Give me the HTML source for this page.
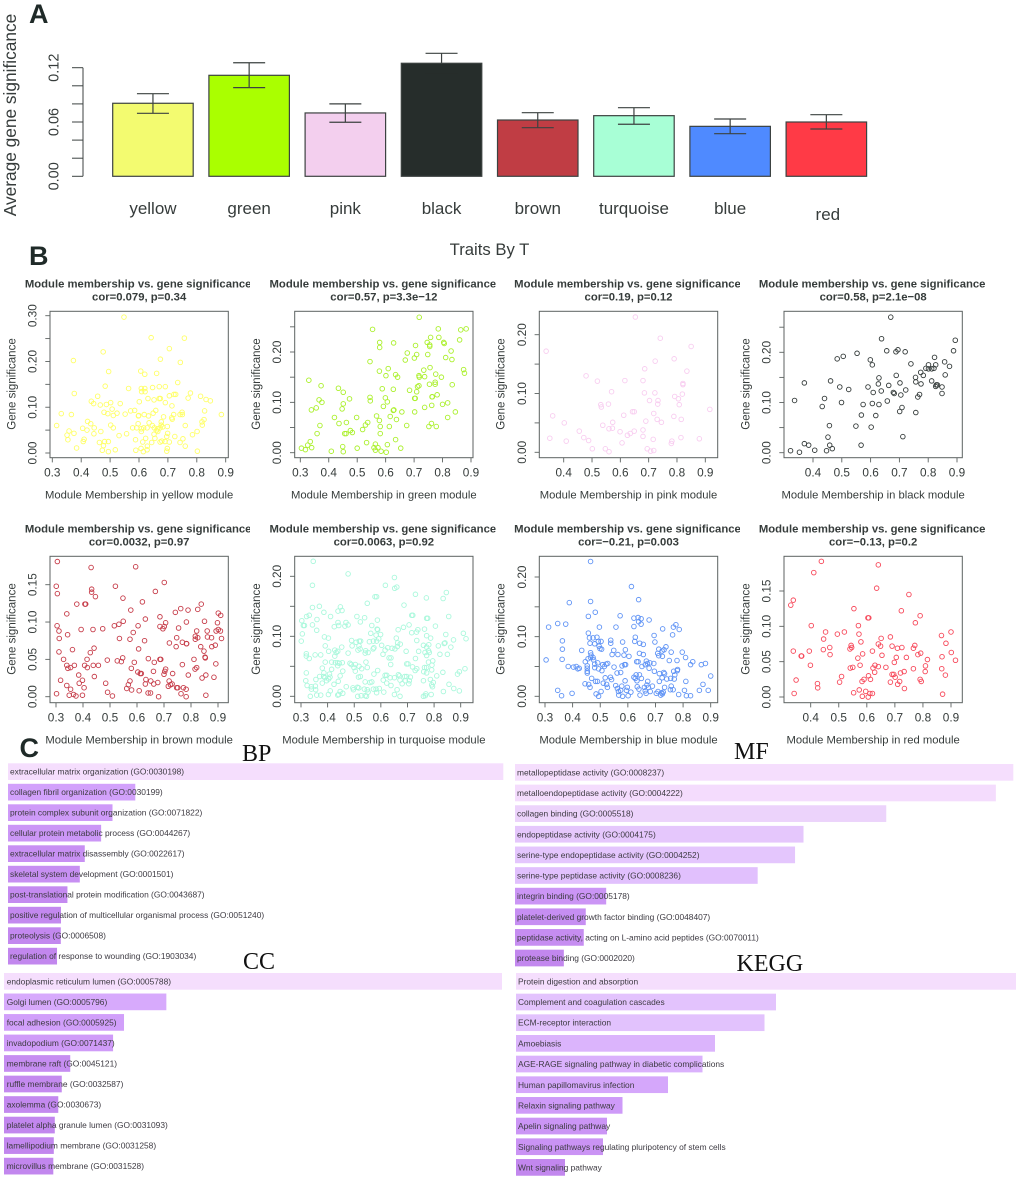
<!DOCTYPE html>
<html lang="en">
<head>
<meta charset="utf-8">
<title>Module gene significance figure</title>
<style>
html,body{margin:0;padding:0;background:#fff;}
body{width:1020px;height:1180px;overflow:hidden;}
svg{display:block;filter:blur(0.35px);}
text{font-family:"Liberation Sans",Arial,sans-serif;fill:#363c3b;}
.serif{font-family:"Liberation Serif","Times New Roman",serif;fill:#111;font-size:24px;}
.letter{font-weight:bold;font-size:27px;fill:#1f2a28;}
</style>
</head>
<body>
<svg id="fig" xmlns="http://www.w3.org/2000/svg" width="1020" height="1180" viewBox="0 0 1020 1180">
  <rect x="0" y="0" width="1020" height="1180" fill="#fff"/>
  <text class="letter" x="29" y="23">A</text>
  <text class="letter" x="29" y="265">B</text>
  <text class="letter" x="19.5" y="757">C</text>
  <text x="489.5" y="255" text-anchor="middle" font-size="16.7">Traits By T</text>
  <text class="serif" x="242" y="761">BP</text>
  <text class="serif" x="734" y="759">MF</text>
  <text class="serif" x="243" y="969">CC</text>
  <text class="serif" x="736.5" y="971">KEGG</text>
</svg>
<script>
/* ---------- Panel A data ---------- */
const moduleNames = ["yellow","green","pink","black","brown","turquoise","blue","red"];
const moduleColors = ["#f3fb70","#aaff00","#f3cfee","#262d2b","#c03d44","#a8ffd6","#4f8aff","#ff3a46"];
const meanSignificance = [0.0807,0.1116,0.0700,0.1249,0.0622,0.0670,0.0552,0.0600];
const errorUpper = [0.0913,0.1255,0.0800,0.1359,0.0703,0.0758,0.0633,0.0681];
const errorLower = [0.0696,0.0980,0.0597,0.1140,0.0537,0.0575,0.0471,0.0523];
const barTicks = [0,0.02,0.04,0.06,0.08,0.10,0.12];
const barTickLabels = ["0.00","0.06","0.12"];

/* ---------- Panel B data: [module membership, gene significance] ---------- */
const yellowPoints = [[.548,.297],[.642,.252],[.757,.251],[.476,.221],[.705,.228],[.373,.202],[.674,.205],[.743,.198],[.495,.178],[.606,.179],[.62,.172],[.661,.174],[.483,.146],[.564,.141],[.608,.141],[.62,.141],[.647,.143],[.67,.145],[.691,.145],[.734,.154],[.376,.13],[.609,.134],[.621,.134],[.778,.131],[.457,.124],[.705,.125],[.721,.128],[.727,.128],[.77,.12],[.813,.124],[.652,.116],[.67,.119],[.674,.119],[.832,.117],[.847,.114],[.435,.113],[.443,.108],[.502,.11],[.487,.106],[.466,.105],[.535,.108],[.601,.112],[.631,.119],[.691,.11],[.714,.103],[.507,.096],[.479,.089],[.492,.086],[.524,.087],[.511,.082],[.331,.086],[.366,.084],[.552,.085],[.571,.092],[.585,.093],[.598,.081],[.618,.084],[.633,.081],[.658,.093],[.649,.087],[.685,.079],[.72,.084],[.742,.084],[.749,.089],[.75,.084],[.827,.092],[.885,.084],[.315,.06],[.358,.048],[.351,.039],[.354,.029],[.375,.043],[.384,.011],[.405,.054],[.422,.069],[.433,.064],[.42,.05],[.445,.055],[.444,.042],[.41,.03],[.407,.025],[.468,.047],[.463,.023],[.477,.016],[.473,.006],[.481,.025],[.494,.025],[.494,.003],[.502,.061],[.511,.055],[.518,.007],[.531,.038],[.557,.042],[.588,.029],[.589,.006],[.578,.055],[.592,.055],[.597,.064],[.599,.082],[.608,.047],[.608,.053],[.616,.055],[.628,.055],[.635,.066],[.646,.06],[.653,.055],[.652,.041],[.655,.032],[.66,.049],[.664,.053],[.665,.047],[.673,.055],[.677,.068],[.682,.057],[.677,.061],[.698,.058],[.699,.043],[.696,.036],[.69,.025],[.705,.024],[.673,.024],[.679,.026],[.644,.023],[.623,.032],[.613,.024],[.629,.015],[.607,.01],[.615,.003],[.628,.007],[.696,.004],[.698,.01],[.724,.036],[.742,.023],[.752,.031],[.76,.06],[.76,.015],[.785,.04],[.801,.047],[.802,.004],[.819,.061],[.818,.068],[.825,.073],[.713,.077],[.715,.074]];
const greenPoints = [[.718,.269],[.554,.245],[.785,.246],[.864,.244],[.883,.246],[.86,.224],[.787,.229],[.758,.229],[.579,.219],[.579,.209],[.628,.218],[.705,.213],[.746,.219],[.755,.214],[.755,.211],[.804,.219],[.806,.217],[.83,.202],[.676,.198],[.709,.195],[.701,.188],[.669,.184],[.748,.195],[.811,.189],[.833,.185],[.545,.181],[.609,.167],[.578,.162],[.601,.153],[.635,.155],[.642,.15],[.756,.169],[.734,.164],[.776,.156],[.737,.151],[.717,.153],[.718,.15],[.796,.15],[.874,.165],[.877,.158],[.33,.144],[.373,.133],[.434,.128],[.451,.12],[.588,.127],[.627,.126],[.684,.124],[.709,.121],[.712,.131],[.717,.133],[.754,.136],[.774,.136],[.774,.14],[.834,.135],[.366,.105],[.376,.1],[.356,.089],[.339,.085],[.473,.107],[.451,.097],[.447,.087],[.545,.11],[.546,.103],[.599,.109],[.606,.101],[.592,.092],[.627,.084],[.629,.085],[.702,.108],[.704,.108],[.764,.111],[.763,.111],[.781,.115],[.702,.081],[.737,.09],[.762,.094],[.8,.096],[.818,.099],[.845,.081],[.42,.07],[.369,.054],[.359,.038],[.436,.058],[.462,.06],[.498,.07],[.537,.06],[.529,.055],[.519,.046],[.476,.044],[.483,.04],[.461,.038],[.456,.038],[.568,.073],[.578,.064],[.581,.052],[.581,.038],[.616,.072],[.613,.052],[.638,.066],[.657,.081],[.674,.054],[.752,.052],[.761,.058],[.778,.052],[.818,.07],[.635,.026],[.653,.009],[.606,.016],[.602,.001],[.533,.02],[.564,.017],[.559,.01],[.564,.005],[.573,.01],[.584,.003],[.5,.009],[.449,.012],[.451,.002],[.409,.003],[.304,.009],[.318,.006],[.326,.015],[.335,.022],[.34,.01]];
const pinkPoints = [[.653,.23],[.741,.194],[.338,.172],[.85,.18],[.79,.159],[.723,.155],[.686,.142],[.835,.138],[.479,.13],[.519,.121],[.616,.122],[.68,.122],[.821,.117],[.821,.115],[.569,.103],[.685,.101],[.722,.101],[.819,.099],[.792,.095],[.805,.091],[.703,.088],[.733,.088],[.732,.082],[.808,.081],[.531,.081],[.533,.077],[.558,.082],[.916,.073],[.643,.069],[.649,.069],[.612,.063],[.718,.066],[.361,.062],[.789,.061],[.815,.056],[.73,.056],[.69,.053],[.745,.051],[.573,.051],[.402,.05],[.538,.046],[.56,.04],[.572,.041],[.599,.035],[.455,.036],[.649,.036],[.68,.038],[.635,.032],[.625,.029],[.68,.027],[.351,.024],[.471,.025],[.488,.02],[.409,.019],[.716,.022],[.814,.025],[.879,.023],[.782,.019],[.78,.015],[.606,.016],[.501,.006],[.547,.006],[.56,.001],[.695,.006],[.707,.002],[.718,.003]];
const blackPoints = [[.67,.27],[.638,.227],[.656,.203],[.695,.205],[.688,.201],[.72,.201],[.553,.198],[.505,.192],[.484,.187],[.599,.185],[.606,.175],[.74,.177],[.894,.224],[.888,.203],[.822,.19],[.857,.181],[.874,.172],[.859,.155],[.801,.175],[.801,.167],[.792,.168],[.812,.167],[.82,.168],[.826,.175],[.774,.16],[.783,.154],[.756,.15],[.757,.141],[.775,.137],[.812,.143],[.828,.135],[.832,.135],[.826,.132],[.848,.131],[.848,.118],[.37,.139],[.336,.104],[.461,.143],[.44,.108],[.432,.092],[.493,.131],[.524,.126],[.499,.1],[.629,.149],[.627,.137],[.591,.131],[.663,.134],[.689,.154],[.702,.139],[.722,.125],[.637,.123],[.609,.12],[.679,.12],[.682,.118],[.705,.115],[.77,.116],[.764,.111],[.658,.103],[.606,.098],[.629,.096],[.574,.096],[.709,.09],[.701,.082],[.757,.08],[.568,.075],[.618,.074],[.457,.054],[.549,.053],[.602,.051],[.452,.031],[.712,.032],[.567,.015],[.458,.015],[.467,.008],[.447,.004],[.37,.018],[.385,.015],[.406,.005],[.322,.004],[.353,.001]];
const brownPoints = [[.305,.181],[.43,.173],[.595,.174],[.301,.148],[.52,.148],[.701,.153],[.305,.138],[.432,.144],[.432,.14],[.446,.134],[.668,.141],[.548,.132],[.62,.127],[.377,.124],[.407,.124],[.41,.124],[.838,.124],[.762,.118],[.742,.113],[.789,.116],[.825,.117],[.577,.116],[.34,.111],[.901,.112],[.91,.109],[.685,.107],[.631,.104],[.85,.101],[.549,.101],[.304,.095],[.311,.088],[.393,.09],[.437,.09],[.473,.091],[.516,.095],[.533,.097],[.604,.095],[.586,.086],[.685,.094],[.701,.094],[.706,.099],[.696,.091],[.754,.092],[.783,.1],[.898,.099],[.86,.088],[.821,.088],[.893,.088],[.901,.09],[.909,.088],[.312,.078],[.343,.083],[.535,.078],[.574,.077],[.628,.075],[.72,.072],[.747,.079],[.768,.073],[.783,.071],[.784,.071],[.816,.081],[.816,.077],[.825,.079],[.861,.08],[.876,.079],[.913,.078],[.745,.067],[.836,.067],[.877,.067],[.89,.069],[.311,.06],[.361,.063],[.427,.059],[.441,.065],[.606,.064],[.848,.061],[.328,.05],[.415,.05],[.642,.051],[.547,.052],[.527,.048],[.542,.047],[.49,.049],[.59,.046],[.664,.046],[.685,.05],[.688,.05],[.811,.05],[.852,.053],[.853,.052],[.892,.044],[.768,.043],[.34,.042],[.368,.042],[.344,.038],[.354,.039],[.406,.042],[.416,.039],[.438,.042],[.457,.042],[.579,.038],[.706,.037],[.703,.034],[.603,.033],[.612,.031],[.616,.031],[.661,.034],[.7,.03],[.732,.031],[.79,.029],[.821,.039],[.815,.037],[.841,.025],[.855,.029],[.885,.026],[.384,.029],[.442,.027],[.317,.022],[.398,.022],[.386,.018],[.484,.018],[.574,.021],[.633,.023],[.651,.021],[.631,.017],[.662,.017],[.677,.019],[.719,.021],[.716,.014],[.724,.016],[.73,.017],[.747,.012],[.751,.012],[.772,.012],[.782,.01],[.34,.015],[.354,.01],[.404,.012],[.491,.006],[.568,.016],[.562,.011],[.58,.009],[.608,.008],[.641,.005],[.65,.005],[.763,.004],[.302,.004],[.349,.002],[.365,.003],[.374,.001],[.398,.002],[.509,.001],[.68,.0],[.782,.0],[.855,.002]];
const turquoisePoints = [[.346,.225],[.477,.204],[.343,.185],[.651,.198],[.617,.185],[.652,.18],[.66,.182],[.73,.17],[.771,.164],[.846,.173],[.834,.163],[.578,.166],[.584,.166],[.549,.155],[.687,.152],[.343,.148],[.369,.15],[.448,.149],[.386,.14],[.439,.142],[.454,.143],[.321,.133],[.331,.135],[.303,.126],[.309,.118],[.313,.118],[.36,.128],[.411,.133],[.51,.133],[.539,.131],[.587,.127],[.523,.124],[.716,.135],[.72,.135],[.772,.13],[.776,.13],[.855,.133],[.439,.123],[.442,.118],[.469,.123],[.465,.117],[.477,.119],[.425,.116],[.343,.119],[.359,.11],[.305,.104],[.301,.092],[.388,.099],[.403,.097],[.566,.118],[.665,.111],[.685,.115],[.706,.119],[.739,.111],[.734,.107],[.716,.106],[.764,.112],[.805,.117],[.772,.101],[.787,.097],[.844,.103],[.91,.105],[.92,.096],[.873,.094],[.586,.112],[.588,.111],[.562,.105],[.582,.102],[.599,.103],[.557,.091],[.572,.092],[.584,.092],[.592,.096],[.49,.093],[.507,.09],[.519,.092],[.524,.092],[.658,.097],[.663,.089],[.673,.087],[.603,.085],[.735,.093],[.626,.081],[.616,.077],[.642,.08],[.653,.079],[.662,.083],[.76,.085],[.772,.082],[.78,.086],[.838,.088],[.841,.089],[.816,.084],[.863,.082],[.391,.084],[.453,.082],[.427,.077],[.432,.073],[.404,.075],[.438,.075],[.427,.067],[.477,.072],[.492,.084],[.518,.084],[.514,.077],[.522,.079],[.543,.076],[.541,.072],[.552,.073],[.574,.081],[.571,.079],[.608,.07],[.631,.064],[.638,.064],[.695,.075],[.742,.075],[.779,.076],[.782,.073],[.73,.063],[.766,.073],[.772,.068],[.822,.07],[.85,.07],[.32,.071],[.32,.067],[.331,.063],[.353,.069],[.374,.069],[.391,.057],[.415,.057],[.38,.047],[.386,.039],[.415,.045],[.429,.056],[.438,.056],[.444,.055],[.455,.056],[.438,.051],[.457,.042],[.484,.055],[.489,.053],[.504,.053],[.499,.048],[.504,.042],[.528,.046],[.544,.057],[.549,.048],[.518,.05],[.588,.043],[.574,.037],[.637,.053],[.697,.054],[.702,.054],[.719,.049],[.735,.046],[.729,.043],[.764,.048],[.772,.048],[.761,.041],[.772,.039],[.779,.057],[.795,.059],[.792,.052],[.791,.044],[.833,.04],[.81,.034],[.888,.037],[.895,.041],[.916,.046],[.32,.039],[.318,.026],[.323,.018],[.339,.016],[.339,.012],[.354,.017],[.355,.011],[.356,.028],[.37,.033],[.385,.033],[.39,.031],[.38,.022],[.396,.026],[.404,.029],[.407,.037],[.409,.032],[.447,.034],[.44,.025],[.424,.02],[.41,.009],[.403,.003],[.359,.002],[.374,.002],[.335,.0],[.438,.002],[.442,.003],[.447,.008],[.457,.005],[.47,.016],[.516,.032],[.523,.033],[.541,.024],[.559,.023],[.566,.024],[.609,.027],[.616,.035],[.622,.035],[.635,.031],[.622,.022],[.638,.018],[.651,.031],[.666,.036],[.67,.034],[.672,.027],[.68,.021],[.69,.033],[.697,.033],[.692,.026],[.707,.026],[.705,.021],[.76,.026],[.711,.032],[.786,.028],[.797,.023],[.791,.019],[.794,.016],[.856,.02],[.874,.013],[.895,.009],[.835,.008],[.495,.014],[.512,.015],[.517,.014],[.497,.011],[.538,.012],[.549,.011],[.552,.007],[.572,.012],[.582,.012],[.594,.013],[.584,.006],[.611,.007],[.661,.011],[.651,.003],[.672,.0],[.513,.0],[.526,.001],[.541,.001],[.546,.0],[.76,.0],[.769,.004],[.767,.001],[.789,.003]];
const bluePoints = [[.465,.226],[.613,.184],[.388,.157],[.465,.159],[.639,.162],[.482,.141],[.457,.134],[.572,.135],[.622,.131],[.637,.132],[.648,.13],[.639,.125],[.648,.121],[.677,.128],[.313,.116],[.346,.122],[.375,.121],[.497,.116],[.557,.116],[.622,.117],[.726,.113],[.765,.116],[.774,.12],[.786,.112],[.762,.103],[.457,.106],[.461,.098],[.474,.098],[.488,.099],[.627,.099],[.695,.102],[.363,.093],[.463,.089],[.48,.088],[.493,.092],[.503,.092],[.538,.094],[.538,.089],[.581,.091],[.625,.092],[.643,.089],[.656,.087],[.698,.091],[.496,.084],[.499,.08],[.505,.079],[.738,.083],[.712,.079],[.731,.078],[.724,.076],[.363,.079],[.433,.077],[.549,.077],[.591,.078],[.757,.074],[.797,.074],[.465,.073],[.467,.069],[.543,.07],[.564,.07],[.586,.069],[.604,.067],[.642,.072],[.656,.07],[.708,.072],[.712,.068],[.725,.067],[.809,.065],[.304,.061],[.362,.062],[.446,.058],[.456,.063],[.465,.065],[.474,.065],[.476,.061],[.48,.054],[.491,.056],[.509,.053],[.515,.05],[.521,.054],[.527,.055],[.75,.06],[.778,.06],[.632,.058],[.637,.058],[.667,.059],[.671,.055],[.68,.056],[.694,.055],[.835,.058],[.827,.053],[.866,.053],[.881,.055],[.384,.05],[.403,.049],[.413,.05],[.419,.046],[.424,.047],[.453,.051],[.453,.047],[.453,.042],[.453,.039],[.48,.048],[.494,.046],[.506,.043],[.55,.049],[.579,.051],[.588,.053],[.592,.053],[.561,.039],[.574,.04],[.651,.05],[.663,.053],[.677,.047],[.696,.042],[.714,.038],[.73,.04],[.733,.038],[.766,.042],[.78,.045],[.779,.043],[.77,.036],[.9,.034],[.469,.03],[.518,.031],[.537,.032],[.541,.028],[.59,.026],[.622,.032],[.63,.036],[.642,.036],[.627,.03],[.649,.03],[.633,.026],[.724,.031],[.755,.03],[.768,.029],[.741,.029],[.714,.025],[.81,.025],[.445,.021],[.458,.02],[.483,.025],[.49,.025],[.511,.022],[.523,.02],[.526,.015],[.556,.018],[.578,.017],[.598,.015],[.463,.015],[.562,.013],[.574,.01],[.595,.01],[.611,.007],[.566,.008],[.567,.002],[.581,.0],[.601,.001],[.64,.012],[.634,.016],[.66,.015],[.669,.019],[.672,.025],[.674,.015],[.663,.009],[.689,.017],[.666,.005],[.681,.008],[.644,.002],[.703,.005],[.709,.008],[.722,.006],[.728,.007],[.719,.002],[.725,.004],[.733,.015],[.754,.011],[.764,.011],[.757,.017],[.784,.003],[.805,.01],[.812,.001],[.827,.001],[.859,.01],[.872,.02],[.891,.01],[.346,.01],[.36,.001],[.398,.005],[.485,.004],[.494,.0],[.503,.008]];
const redPoints = [[.438,.192],[.641,.187],[.411,.176],[.635,.154],[.75,.145],[.338,.137],[.329,.13],[.554,.125],[.723,.122],[.79,.115],[.604,.112],[.607,.112],[.773,.105],[.57,.101],[.402,.101],[.453,.092],[.52,.092],[.495,.089],[.572,.089],[.9,.092],[.866,.087],[.684,.085],[.651,.083],[.446,.082],[.579,.078],[.882,.076],[.641,.075],[.649,.072],[.544,.073],[.546,.07],[.54,.068],[.69,.072],[.725,.07],[.709,.069],[.771,.073],[.766,.069],[.468,.07],[.445,.067],[.395,.065],[.338,.065],[.62,.065],[.901,.063],[.469,.06],[.585,.061],[.654,.059],[.366,.058],[.368,.058],[.782,.06],[.792,.062],[.568,.055],[.705,.056],[.741,.056],[.868,.057],[.816,.053],[.916,.052],[.698,.049],[.399,.045],[.576,.045],[.629,.045],[.641,.043],[.668,.042],[.541,.041],[.55,.042],[.622,.041],[.809,.044],[.766,.04],[.867,.04],[.628,.035],[.733,.036],[.72,.034],[.808,.036],[.69,.032],[.696,.032],[.88,.031],[.51,.029],[.606,.03],[.701,.028],[.348,.024],[.613,.025],[.59,.025],[.583,.022],[.503,.021],[.424,.019],[.425,.013],[.684,.021],[.717,.022],[.71,.018],[.79,.025],[.794,.022],[.734,.012],[.341,.005],[.553,.006],[.573,.01],[.596,.008],[.611,.005],[.62,.005],[.584,.001],[.605,.0],[.87,.004]];

const xTicksFrom3 = [0.3,0.4,0.5,0.6,0.7,0.8,0.9];
const xTicksFrom4 = [0.4,0.5,0.6,0.7,0.8,0.9];
const yTicksTo30 = [0,0.05,0.10,0.15,0.20,0.25,0.30];
const yTicksTo25 = [0,0.05,0.10,0.15,0.20,0.25];
const yTicksTo20 = [0,0.05,0.10,0.15,0.20];
const yTicksTo15 = [0,0.05,0.10,0.15];
const yLabelsBy10 = [0,0.10,0.20,0.30];
const yLabelsBy05 = [0,0.05,0.10,0.15];

const corLabels = ["cor=0.079, p=0.34","cor=0.57, p=3.3e\u221212","cor=0.19, p=0.12","cor=0.58, p=2.1e\u221208","cor=0.0032, p=0.97","cor=0.0063, p=0.92","cor=\u22120.21, p=0.003","cor=\u22120.13, p=0.2"];

/* ---------- Panel C data: enrichment score relative to top term ---------- */
const bpTerms = ["extracellular matrix organization (GO:0030198)","collagen fibril organization (GO:0030199)","protein complex subunit organization (GO:0071822)","cellular protein metabolic process (GO:0044267)","extracellular matrix disassembly (GO:0022617)","skeletal system development (GO:0001501)","post-translational protein modification (GO:0043687)","positive regulation of multicellular organismal process (GO:0051240)","proteolysis (GO:0006508)","regulation of response to wounding (GO:1903034)"];
const bpScores = [100,25.7,21.1,18.8,15.5,14.5,12.0,10.7,10.66,9.9];
const ccTerms = ["endoplasmic reticulum lumen (GO:0005788)","Golgi lumen (GO:0005796)","focal adhesion (GO:0005925)","invadopodium (GO:0071437)","membrane raft (GO:0045121)","ruffle membrane (GO:0032587)","axolemma (GO:0030673)","platelet alpha granule lumen (GO:0031093)","lamellipodium membrane (GO:0031258)","microvillus membrane (GO:0031528)"];
const ccScores = [100,32.6,24.1,21.9,13.3,11.6,10.9,10.2,10.0,9.9];
const mfTerms = ["metallopeptidase activity (GO:0008237)","metalloendopeptidase activity (GO:0004222)","collagen binding (GO:0005518)","endopeptidase activity (GO:0004175)","serine-type endopeptidase activity (GO:0004252)","serine-type peptidase activity (GO:0008236)","integrin binding (GO:0005178)","platelet-derived growth factor binding (GO:0048407)","peptidase activity, acting on L-amino acid peptides (GO:0070011)","protease binding (GO:0002020)"];
const mfScores = [100,96.5,74.5,57.9,56.2,48.7,18.3,14.2,13.8,9.8];
const keggTerms = ["Protein digestion and absorption","Complement and coagulation cascades","ECM-receptor interaction","Amoebiasis","AGE-RAGE signaling pathway in diabetic complications","Human papillomavirus infection","Relaxin signaling pathway","Apelin signaling pathway","Signaling pathways regulating pluripotency of stem cells","Wnt signaling pathway"];
const keggScores = [100,52,49.7,39.8,37.3,30.4,21.3,18.2,17.4,9.8];

/* ---------- helpers ---------- */
const SVGNS = "http://www.w3.org/2000/svg";
const fig = document.getElementById("fig");
function linear(d0, d1, r0, r1) {
  return function (v) { return r0 + (v - d0) * (r1 - r0) / (d1 - d0); };
}
function make(tag, attrs, parent, name) {
  const el = document.createElementNS(SVGNS, tag);
  for (const k in attrs) el.setAttribute(k, attrs[k]);
  
  
  parent.appendChild(el);
  return el;
}
function label(txt, attrs, parent, name) {
  const el = make("text", attrs, parent, name);
  el.textContent = txt;
  return el;
}

/* ---------- Panel A ---------- */
(function () {
  const g = make("g", {}, fig, "bar-chart-panel-a");
  const y = linear(0, 0.12, 176.3, 67.7);
  const barLeft = function (i) { return 112.7 + 96.2 * i; };
  const barWidth = 80.5;
  const ink = "#3c4241";
  moduleNames.forEach(function (m, i) {
    const top = y(meanSignificance[i]);
    make("rect", {x: barLeft(i), y: top, width: barWidth, height: y(0) - top, fill: moduleColors[i], stroke: ink, "stroke-width": 1.2}, g, "bar-" + m);
    const c = barLeft(i) + barWidth / 2;
    const capTop = y(errorUpper[i]);
    const capBottom = y(errorLower[i]);
    const darkBar = m === "black";
    make("line", {x1: c, x2: c, y1: capTop, y2: darkBar ? top : capBottom, stroke: ink, "stroke-width": 1.2}, g, "error-stem-" + m);
    make("line", {x1: c - 16, x2: c + 16, y1: capTop, y2: capTop, stroke: ink, "stroke-width": 1.2}, g, "error-cap-top-" + m);
    make("line", {x1: c - 16, x2: c + 16, y1: capBottom, y2: capBottom, stroke: darkBar ? moduleColors[i] : ink, "stroke-width": 1.2}, g, "error-cap-bottom-" + m);
    const isLast = i === moduleNames.length - 1;
    label(m, {x: c + (isLast ? 1.5 : 0), y: isLast ? 220 : 214, "text-anchor": "middle", "font-size": 17}, g, "category-label-" + m);
  });
  make("line", {x1: 83, x2: 83, y1: y(0.12), y2: y(0), stroke: ink, "stroke-width": 1}, g, "y-axis-line");
  barTicks.forEach(function (t) {
    make("line", {x1: 72, x2: 83, y1: y(t), y2: y(t), stroke: ink, "stroke-width": 1}, g, "y-axis-tick");
  });
  barTickLabels.forEach(function (t) {
    const py = y(parseFloat(t));
    label(t, {x: 58.5, y: py, "text-anchor": "middle", "font-size": 14.5, transform: "rotate(-90 58.5 " + py + ")"}, g, "y-tick-label");
  });
  label("Average gene significance", {x: 16, y: 115, "text-anchor": "middle", "font-size": 17.3, transform: "rotate(-90 16 115)"}, g, "y-axis-title");
})();

/* ---------- Panel B ---------- */
const scatterPanels = [
  {m:"yellow", pts:yellowPoints, col:"#ffff66", box:[50,228.3,311.3,457.7], xt:xTicksFrom3, xc:[.3,52.3,.9,225.7], yt:yTicksTo30, yl:yLabelsBy10, yc:[.3,453,315.7], clip:[0,250]},
  {m:"green", pts:greenPoints, col:"#aaf02a", box:[294.7,473,311.3,457.7], xt:xTicksFrom3, xc:[.3,300.3,.9,471], yt:yTicksTo25, yl:yLabelsBy10, yc:[.2,452.7,352], clip:[250,495.5]},
  {m:"pink", pts:pinkPoints, col:"#f8cdf0", box:[539.3,717.7,311.3,457.7], xt:xTicksFrom4, xc:[.4,563.7,.9,705.3], yt:yTicksTo20, yl:yLabelsBy10, yc:[.2,452.3,334.7], clip:[500,740]},
  {m:"black", pts:blackPoints, col:"#333a39", box:[784,962.3,311.3,457.7], xt:xTicksFrom4, xc:[.4,813,.9,957], yt:yTicksTo25, yl:yLabelsBy10, yc:[.2,452.7,352.3], clip:[745,985]},
  {m:"brown", pts:brownPoints, col:"#c63b48", box:[50,228.3,556.3,702.7], xt:xTicksFrom3, xc:[.3,56,.9,218], yt:yTicksTo15, yl:yLabelsBy05, yc:[.15,696.7,584.7], clip:[0,250]},
  {m:"turquoise", pts:turquoisePoints, col:"#aaf8dc", box:[294.7,473,556.3,702.7], xt:xTicksFrom3, xc:[.3,301,.9,460.7], yt:yTicksTo20, yl:yLabelsBy10, yc:[.2,696.3,576.3], clip:[250,495.5]},
  {m:"blue", pts:bluePoints, col:"#5f93f5", box:[539.3,717.7,556.3,702.7], xt:xTicksFrom3, xc:[.3,545,.9,710.7], yt:yTicksTo20, yl:yLabelsBy10, yc:[.2,696.3,577], clip:[500,740]},
  {m:"red", pts:redPoints, col:"#f7485a", box:[784,962.3,556.3,702.7], xt:xTicksFrom4, xc:[.4,810.7,.9,951], yt:yTicksTo15, yl:yLabelsBy05, yc:[.15,697,591], clip:[745,985]}
];
scatterPanels.forEach(function (p, idx) {
  const g = make("g", {}, fig, "scatter-panel-" + p.m);
  const left = p.box[0], right = p.box[1], top = p.box[2], bottom = p.box[3];
  const x = linear(p.xc[0], p.xc[2], p.xc[1], p.xc[3]);
  const y = linear(0, p.yc[0], p.yc[1], p.yc[2]);
  const ink = "#5c6261";
  const tickLen = 4.7;
  make("rect", {x: left, y: top, width: right - left, height: bottom - top, fill: "#fff", stroke: ink, "stroke-width": 1}, g, "plot-frame-" + p.m);
  p.xt.forEach(function (t) {
    make("line", {x1: x(t), x2: x(t), y1: bottom, y2: bottom + tickLen, stroke: ink, "stroke-width": 0.9}, g, "x-tick");
    label(t.toFixed(1), {x: x(t), y: bottom + 19, "text-anchor": "middle", "font-size": 11.8}, g, "x-tick-label");
  });
  p.yt.forEach(function (t) {
    make("line", {x1: left - tickLen, x2: left, y1: y(t), y2: y(t), stroke: ink, "stroke-width": 0.9}, g, "y-tick");
  });
  p.yl.forEach(function (t) {
    if (t > p.yt[p.yt.length - 1] + 1e-9) return;
    const px = left - 13.5, py = y(t);
    label(t.toFixed(2), {x: px, y: py, "text-anchor": "middle", "font-size": 11.8, transform: "rotate(-90 " + px + " " + py + ")"}, g, "y-tick-label");
  });
  p.pts.forEach(function (d) {
    make("circle", {cx: x(d[0]), cy: y(d[1]), r: 2.3, fill: "none", stroke: p.col, "stroke-width": 0.9}, g, "point-" + p.m);
  });
  const centerX = (left + right) / 2;
  const clipId = "title-clip-" + idx;
  const cp = make("clipPath", {id: clipId}, g, "title-clip");
  make("rect", {x: p.clip[0], y: top - 35, width: p.clip[1] - p.clip[0], height: 32}, cp, "title-clip-area");
  label("Module membership vs. gene significance", {x: centerX - 1, y: top - 24, "text-anchor": "middle", "font-size": 11.3, "font-weight": "bold", "clip-path": "url(#" + clipId + ")"}, g, "plot-title-" + p.m);
  label(corLabels[idx], {x: centerX, y: top - 11, "text-anchor": "middle", "font-size": 11.3, "font-weight": "bold"}, g, "correlation-label-" + p.m);
  label("Module Membership in " + p.m + " module", {x: centerX, y: bottom + 40.7, "text-anchor": "middle", "font-size": 11.25}, g, "x-axis-title-" + p.m);
  const ylx = left - 34.7, yly = (top + bottom) / 2 - 0.5;
  label("Gene significance", {x: ylx, y: yly, "text-anchor": "middle", "font-size": 11.5, transform: "rotate(-90 " + ylx + " " + yly + ")"}, g, "y-axis-title-" + p.m);
});

/* ---------- Panel C ---------- */
const colorScale = [[0.10,[194,135,238]],[0.25,[210,160,251]],[0.50,[226,194,253]],[0.75,[236,211,251]],[1.00,[245,222,253]]];
function scoreColor(score) {
  const f = score / 100;
  let a = colorScale[0], b = colorScale[colorScale.length - 1];
  if (f <= a[0]) return "rgb(" + a[1].join(",") + ")";
  for (let i = 0; i < colorScale.length - 1; i++) {
    if (f >= colorScale[i][0] && f <= colorScale[i + 1][0]) { a = colorScale[i]; b = colorScale[i + 1]; break; }
  }
  const t = (f - a[0]) / (b[0] - a[0]);
  return "rgb(" + a[1].map(function (c, j) { return Math.round(c + (b[1][j] - c) * t); }).join(",") + ")";
}
const enrichmentPanels = [
  {name:"bp", terms:bpTerms, scores:bpScores, left:8, full:495.3, top:763.3, pitch:20.5, textX:10},
  {name:"cc", terms:ccTerms, scores:ccScores, left:4, full:498, top:973, pitch:20.53, textX:6.7},
  {name:"mf", terms:mfTerms, scores:mfScores, left:515, full:498.3, top:764, pitch:20.63, textX:517},
  {name:"kegg", terms:keggTerms, scores:keggScores, left:516, full:500, top:973, pitch:20.67, textX:518}
];
enrichmentPanels.forEach(function (p) {
  const g = make("g", {}, fig, "enrichment-panel-" + p.name);
  const w = linear(0, 100, 0, p.full);
  p.terms.forEach(function (t, i) {
    const rowTop = p.top + p.pitch * i;
    make("rect", {x: p.left, y: rowTop, width: w(p.scores[i]), height: 16.7, fill: scoreColor(p.scores[i])}, g, "enrichment-bar-" + p.name);
    label(t, {x: p.textX, y: rowTop + 11.4, "font-size": 8.4, style: "fill:#3d3a42"}, g, "enrichment-term-" + p.name);
  });
});
</script>
</body>
</html>
